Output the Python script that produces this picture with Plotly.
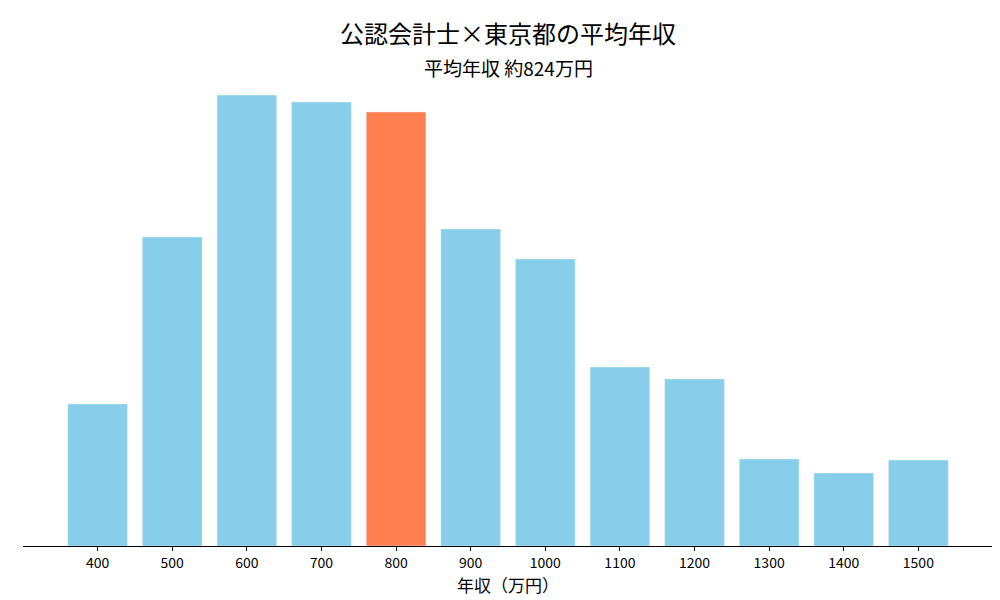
import plotly.graph_objects as go

incomes = ['400', '500', '600', '700', '800', '900', '1000', '1100', '1200', '1300', '1400', '1500']
counts = [142, 309, 451, 444, 434, 317, 287, 179, 167, 87, 73, 86]
highlight = '800'

colors = ['#ff7f50' if c == highlight else '#87ceeb' for c in incomes]

fig = go.Figure()
fig.add_trace(go.Bar(x=incomes, y=counts, marker_color=colors, width=0.8))

fig.update_layout(
    width=1000, height=600,
    margin=dict(l=15, r=15, t=65, b=62),
    plot_bgcolor='white', paper_bgcolor='white',
    font=dict(family='Noto Sans CJK JP', color='black', size=14),
    showlegend=False,
    xaxis=dict(range=[-1, 12], showline=True, linecolor='black', ticks='outside',
               ticklen=4, tickcolor='black', title_text='年収（万円）', title_standoff=6),
    yaxis=dict(range=[0, 473], visible=False),
)
fig.add_annotation(text='公認会計士×東京都の平均年収', xref='paper', yref='paper', x=0.5, y=1,
                   yshift=60, showarrow=False, font=dict(size=24))
fig.add_annotation(text='平均年収 約824万円', xref='paper', yref='paper', x=0.5, y=1,
                   yshift=21, showarrow=False, font=dict(size=19))

fig.write_html("out.html")
